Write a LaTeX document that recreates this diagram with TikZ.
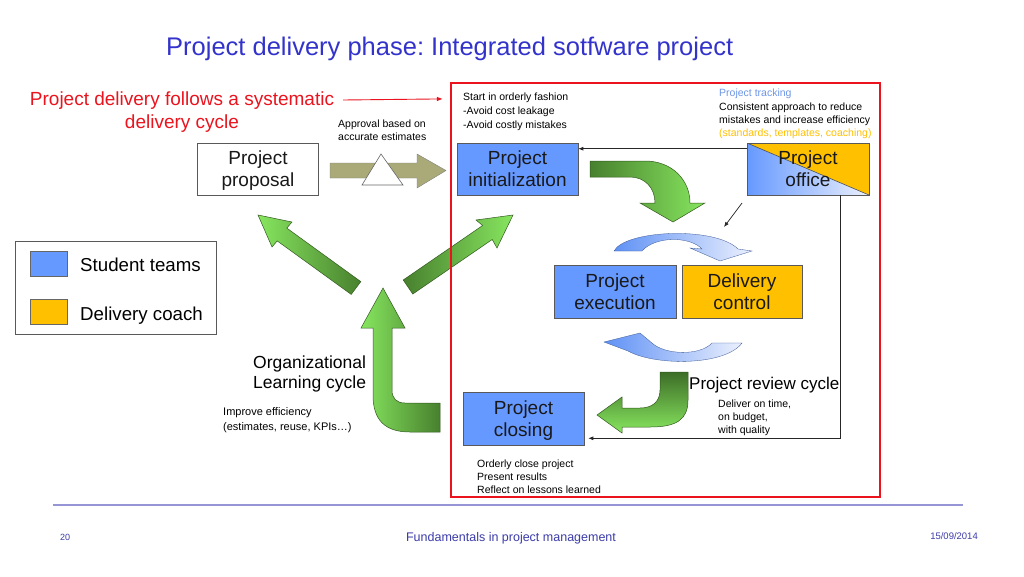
\documentclass[tikz,border=0pt]{standalone}
\usepackage{fontspec}
\setmainfont{Liberation Sans}
\usetikzlibrary{arrows.meta,calc}
\frenchspacing
\definecolor{boxblue}{RGB}{102,153,255}
\definecolor{boxorange}{RGB}{255,192,0}
\definecolor{titleblue}{RGB}{51,51,204}
\definecolor{slidered}{RGB}{235,20,30}
\definecolor{gdark}{RGB}{72,128,46}
\definecolor{glight}{RGB}{135,230,95}
\definecolor{gline}{RGB}{50,90,30}
\definecolor{khakiD}{RGB}{170,170,120}
\definecolor{khakiL}{RGB}{238,238,210}
\definecolor{arcblue}{RGB}{95,145,245}
\definecolor{arcpale}{RGB}{235,240,253}
\definecolor{trackblue}{RGB}{110,150,230}
\definecolor{footblue}{RGB}{60,60,170}
\definecolor{footline}{RGB}{150,150,215}
\begin{document}
\begin{tikzpicture}[x=1pt,y=-1pt,
  box/.style={draw=black!65, line width=0.6pt, minimum width=121pt, minimum height=52pt,
    inner sep=0pt, align=center, text depth=0pt, text=black!90,
    font=\fontsize{19}{22}\selectfont},
  bluebox/.style={box, fill=boxblue},
  orangebox/.style={box, fill=boxorange},
  note/.style={font=\fontsize{10.5}{13}\selectfont, inner sep=0pt, anchor=base west},
  mid/.style={font=\fontsize{17.5}{21}\selectfont, inner sep=0pt, anchor=base west},
  greenshape/.style={draw=gline, line width=0.5pt},
  conn/.style={draw=black!85, line width=0.7pt, -{Latex[length=5pt,width=4pt]}},
  swatch/.style={draw=black!60, line width=0.6pt, minimum width=37pt, minimum height=25pt, inner sep=0pt}
]
\useasboundingbox (0,0) rectangle (1024,576);
\fill[white] (0,0) rectangle (1024,576);

% title
\node[anchor=base west, inner sep=0pt, text=titleblue, font=\fontsize{25.5}{30}\selectfont] (title) at (166,55) {Project delivery phase: Integrated sotfware project};

% red statement
\node[anchor=base, inner sep=0pt, text=slidered, font=\fontsize{19}{23}\selectfont] (red1) at (182,105) {Project delivery follows a systematic};
\node[anchor=base, inner sep=0pt, text=slidered, font=\fontsize{19}{23}\selectfont] (red2) at (182,128) {delivery cycle};

% legend
\node[draw=black!65, line width=0.6pt, minimum width=201pt, minimum height=93pt, inner sep=0pt] (legend) at (115.5,287.5) {};
\node[swatch, fill=boxblue] (sw1) at (48.5,263.5) {};
\node[swatch, fill=boxorange] (sw2) at (48.5,312) {};
\node[inner sep=0pt, anchor=base west, font=\fontsize{18.7}{22}\selectfont] (lg1) at (80,271) {Student teams};
\node[inner sep=0pt, anchor=base west, font=\fontsize{18.7}{22}\selectfont] (lg2) at (80,320) {Delivery coach};

% green straight arrows
\shadedraw[greenshape, left color=glight, right color=gdark]
  (258,215) -- (292,222) -- (286.8,228.1) -- (360.8,281.6) -- (351.2,294.4) -- (277.2,240.9) -- (272,247) -- cycle;
\shadedraw[greenshape, left color=gdark, right color=glight]
  (513,215) -- (476,220) -- (482.6,225.5) -- (403.2,280) -- (412.8,294) -- (492.2,239.5) -- (497,248) -- cycle;
% learning curved arrow
\shadedraw[greenshape, left color=glight, right color=gdark]
  (383,288) -- (405,328) -- (392,328) -- (392,390) .. controls (392,398) and (396,403) .. (405,403)
  -- (440,403) -- (440,432) -- (410,432) .. controls (385,432) and (373,420) .. (373,395)
  -- (373,328) -- (361,328) -- cycle;

% khaki approval arrow with triangle
\shadedraw[draw=black!50, line width=0.4pt, left color=khakiD, middle color=khakiL, right color=khakiD]
  (330,163) -- (417,163) -- (417,154) -- (446,170.5) -- (417,188) -- (417,178) -- (330,178) -- cycle;
\filldraw[fill=white, draw=black!60, line width=0.6pt] (381,154) -- (403,185) -- (362,185) -- cycle;

% boxes
\node[box, fill=white] (proposal) at (258,169) {Project\\proposal};
\node[bluebox] (init) at (517.5,169) {Project\\initialization};
\node[box, minimum width=122pt,
  path picture={
    \fill[boxorange] (path picture bounding box.north west) -- (path picture bounding box.north east) -- (path picture bounding box.south east) -- cycle;
    \shade[left color=boxblue, right color=arcpale] (path picture bounding box.north west) -- (path picture bounding box.south east) -- (path picture bounding box.south west) -- cycle;
    \draw[black!70, line width=0.6pt] (path picture bounding box.north west) -- (path picture bounding box.south east);
  }] (office) at (808,169) {Project\\office};
\node[bluebox, minimum width=122pt, minimum height=53pt] (exec) at (615,291.5) {Project\\execution};
\node[orangebox, minimum width=120pt, minimum height=53pt] (control) at (742,291.5) {Delivery\\control};
\node[bluebox, minimum height=53pt] (closing) at (523.5,418.5) {Project\\closing};

% green curved arrow from initialization
\shadedraw[greenshape, left color=gdark, right color=glight]
  (590,161) -- (645,161) .. controls (672,161) and (690,180) .. (690,203) -- (705,203) -- (673,222)
  -- (640,203) -- (655,203) .. controls (655,188) and (645,177) .. (630,177) -- (590,177) -- cycle;

% blue cycle arcs
\shadedraw[draw=arcblue!60!black, line width=0.3pt, left color=arcblue, right color=arcpale]
  (614,251) .. controls (625,230) and (715,226) .. (738,249) -- (752,251) -- (720,261) -- (690,248)
  -- (702,249) .. controls (690,236) and (655,236) .. (642,251) -- cycle;
\shadedraw[draw=arcblue!60!black, line width=0.3pt, left color=arcblue, right color=arcpale]
  (604,342) -- (640,333) -- (652,343) .. controls (665,355) and (700,356) .. (712,343) -- (742,343)
  .. controls (725,366) and (655,366) .. (628,351) -- cycle;

% review arrow to closing
\shadedraw[greenshape, top color=gdark!85!black, bottom color=glight]
  (660,372) -- (688,372) -- (688,400) .. controls (688,420) and (676,427) .. (650,427) -- (622,427)
  -- (622,433) -- (597,415) -- (622,397) -- (622,408) -- (640,408) .. controls (652,408) and (660,402) .. (660,390) -- cycle;

% connectors
\draw[conn] ($(office.north west)+(0,6)$) -- ($(init.north east)+(0,6)$);
\coordinate (oa) at (742,203);
\coordinate (ob) at (724,227);
\draw[conn] (oa) -- (ob);
\draw[conn] ($(office.south)+(32,0)$) |- ($(closing.south east)+(4,-7)$);

% notes
\node[note] (n1) at (338,127) {Approval based on};
\node[note] (n2) at (338,140) {accurate estimates};
\node[note] (n3) at (463,100) {Start in orderly fashion};
\node[note] (n4) at (463,114) {-Avoid cost leakage};
\node[note] (n5) at (463,128) {-Avoid costly mistakes};
\node[note, text=trackblue] (n6) at (719,96) {Project tracking};
\node[note] (n7) at (719,110) {Consistent approach to reduce};
\node[note] (n8) at (719,123) {mistakes and increase efficiency};
\node[note, text=boxorange] (n9) at (719,136) {(standards, templates, coaching)};
\node[inner sep=0pt, anchor=base west, font=\fontsize{17}{20}\selectfont] (review) at (689,389) {Project review cycle};
\node[note] (n10) at (718,407) {Deliver on time,};
\node[note] (n11) at (718,420) {on budget,};
\node[note] (n12) at (718,433) {with quality};
\node[note] (n13) at (477,467) {Orderly close project};
\node[note] (n14) at (477,480) {Present results};
\node[note] (n15) at (477,493) {Reflect on lessons learned};
\node[mid] (org1) at (253,368) {Organizational};
\node[mid] (org2) at (253,388) {Learning cycle};
\node[note, font=\fontsize{11}{13}\selectfont] (n16) at (223,415) {Improve efficiency};
\node[note, font=\fontsize{11}{13}\selectfont] (n17) at (223,430) {(estimates, reuse, KPIs…)};

% red frame and arrow
\node[draw=slidered, line width=2.2pt, minimum width=429pt, minimum height=414pt, inner sep=0pt] (phase) at (665.5,290) {};
\coordinate (ra) at (343,100);
\draw[slidered, line width=0.9pt, -{Latex[length=6pt,width=4.5pt]}] (ra) -- ($(phase.north west)+(-7,17)$);

% footer
\coordinate (fl) at (53,505);
\coordinate (fr) at (963,505);
\draw[footline, line width=1.2pt] (fl) -- (fr);
\node[inner sep=0pt, anchor=base west, text=footblue, font=\fontsize{9}{11}\selectfont] (pg) at (60,540) {20};
\node[inner sep=0pt, anchor=base, text=footblue, font=\fontsize{12.5}{15}\selectfont] (foot) at (511,541) {Fundamentals in project management};
\node[inner sep=0pt, anchor=base east, text=footblue, font=\fontsize{9.5}{11}\selectfont] (date) at (978,539) {15/09/2014};
\end{tikzpicture}
\end{document}
